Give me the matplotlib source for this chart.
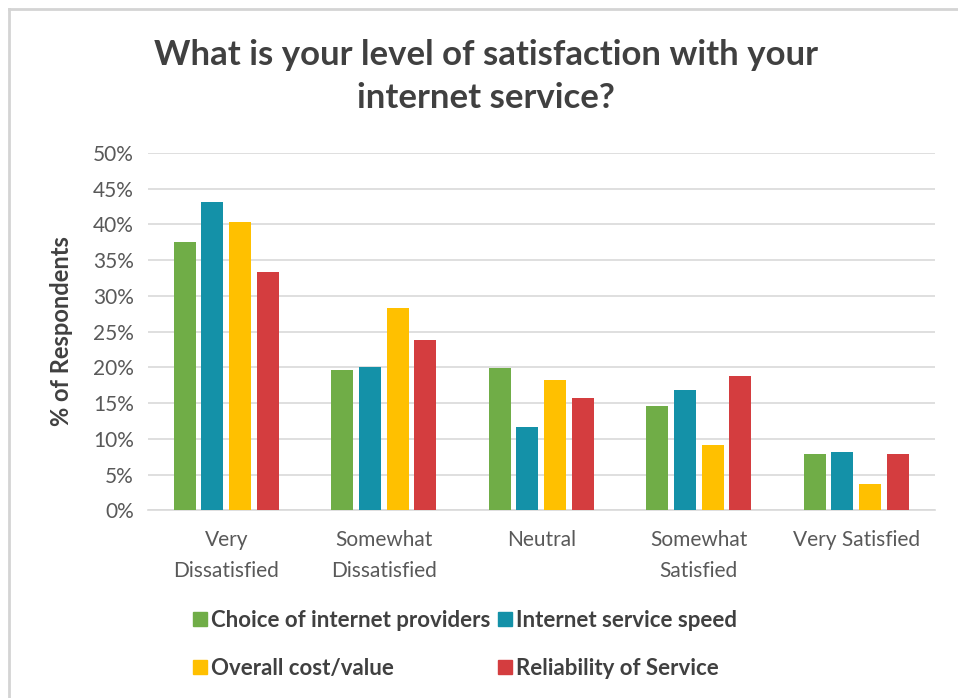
import numpy as np
import matplotlib.pyplot as plt
from matplotlib.lines import Line2D
from matplotlib.ticker import FuncFormatter

# Survey answers (share of respondents, %)
categories = ["Very\nDissatisfied", "Somewhat\nDissatisfied", "Neutral", "Somewhat\nSatisfied", "Very Satisfied"]
series_names = ["Choice of internet providers", "Internet service speed", "Overall cost/value", "Reliability of Service"]
choice = [37.5, 19.6, 19.9, 14.6, 7.9]
speed = [43.1, 20.0, 11.6, 16.8, 8.2]
cost = [40.3, 28.3, 18.2, 9.1, 3.7]
reliability = [33.3, 23.8, 15.7, 18.8, 7.9]
colors = ["#70AD47", "#1491A8", "#FFC000", "#D43D3F"]

plt.rcParams['font.family'] = ['Lato', 'DejaVu Sans']

fig = plt.figure(figsize=(9.58, 6.98), dpi=100)
ax = fig.add_axes([0.154, 0.269, 0.822, 0.512])

x = np.arange(len(categories))
width = 0.14
step = 0.176
all_series = [choice, speed, cost, reliability]
for i, vals in enumerate(all_series):
    ax.bar(x + (i - 1.5) * step, vals, width, color=colors[i], label=series_names[i], zorder=3)

ax.set_xlim(-0.5, len(categories) - 0.5)
ax.set_ylim(0, 50)
ax.set_yticks(np.arange(0, 51, 5))
ax.yaxis.set_major_formatter(FuncFormatter(lambda v, p: f"{v:.0f}%"))
ax.grid(axis="y", color="#d9d9d9", linewidth=1.2, zorder=0)
for s in ["top", "right", "left"]:
    ax.spines[s].set_visible(False)
ax.spines["bottom"].set_color("#d9d9d9")
ax.spines["bottom"].set_linewidth(1.2)
ax.tick_params(axis="both", length=0, labelsize=15, labelcolor="#595959")
ax.tick_params(axis="y", pad=10)
ax.tick_params(axis="x", pad=14)
ax.set_xticks(x)
ax.set_xticklabels(categories, linespacing=1.7)

ax.set_ylabel("% of Respondents", fontsize=17, fontweight="bold", color="#404040", labelpad=14)

fig.text(0.507, 0.89, "What is your level of satisfaction with your\ninternet service?",
         ha="center", va="center", fontsize=25, fontweight="bold", color="#404040", linespacing=1.42)

# legend below the axes, two rows (ncol fills column by column)
handles = [Line2D([], [], marker="s", linestyle="none", markersize=10, markerfacecolor=c, markeredgecolor=c) for c in colors]
order = [0, 2, 1, 3]
fig.legend([handles[k] for k in order], [series_names[k] for k in order],
           loc="center left", bbox_to_anchor=(0.18, 0.077), ncol=2,
           frameon=False, handletextpad=0.15, columnspacing=0.3, labelspacing=1.2,
           prop={"weight": "bold", "size": 16}, labelcolor="#404040", handlelength=0.7)

# thin frame on the left and top edge
fig.add_artist(Line2D([0.009, 0.009], [0, 0.987], color="#d4d4d4", linewidth=2, transform=fig.transFigure))
fig.add_artist(Line2D([0.009, 1], [0.987, 0.987], color="#d4d4d4", linewidth=2, transform=fig.transFigure))

fig.savefig("out.png", dpi=100, facecolor="white")
